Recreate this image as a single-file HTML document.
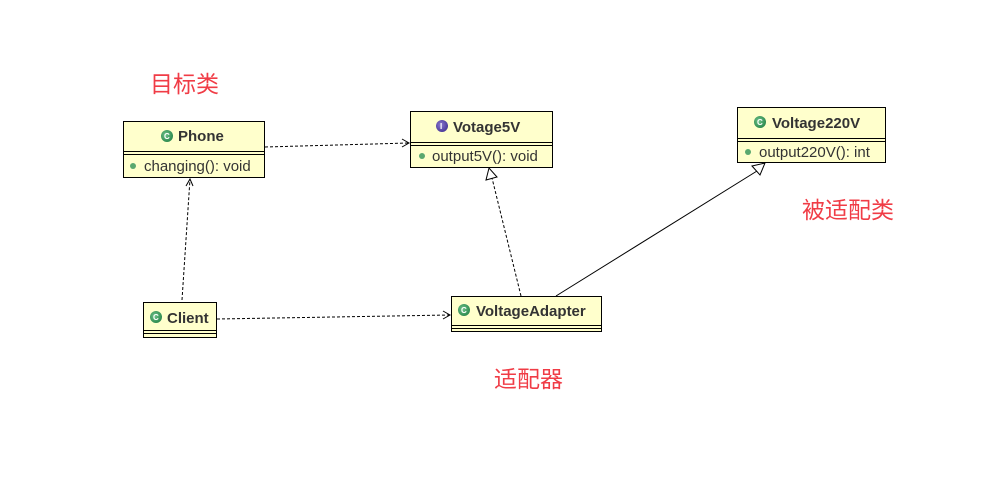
<!DOCTYPE html>
<html><head><meta charset="utf-8"><style>
html,body{margin:0;padding:0;background:#fff;width:984px;height:485px;overflow:hidden}
svg{display:block}
.t{font-family:"Liberation Sans","DejaVu Sans",sans-serif;font-size:15px;fill:#333;font-weight:bold}
.m{font-family:"Liberation Sans","DejaVu Sans",sans-serif;font-size:15px;fill:#333}
.cn{font-family:"Liberation Sans","Noto Sans CJK SC",sans-serif;font-size:23px;fill:#f03c46}
.ic{font-family:"Liberation Sans",sans-serif;font-size:8px;fill:#fff;font-weight:bold}
</style></head><body>
<svg width="984" height="485" viewBox="0 0 984 485">
<defs>
<radialGradient id="g" cx="0.4" cy="0.4" r="0.6"><stop offset="0" stop-color="#6fc28a"/><stop offset="1" stop-color="#2e8b50"/></radialGradient>
<radialGradient id="p" cx="0.4" cy="0.4" r="0.6"><stop offset="0" stop-color="#8a78d0"/><stop offset="1" stop-color="#4b3a9a"/></radialGradient>
</defs>
<text class="cn" x="150" y="92">目标类</text>
<text class="cn" x="802" y="218">被适配类</text>
<text class="cn" x="494" y="387">适配器</text>

<g stroke="#000" stroke-width="1" fill="none">
<path d="M265 147 L409 143" stroke-dasharray="3,2"/>
<path d="M402 139 L409 143 L402 147"/>
<path d="M182 300 L190 179" stroke-dasharray="3,2"/>
<path d="M186 186 L190 179 L193 186"/>
<path d="M217 319 L450 315" stroke-dasharray="3,2"/>
<path d="M443 311 L450 315 L443 319"/>
<path d="M521 296 L492 178" stroke-dasharray="3,2"/>
<path d="M486 180 L489 168 L497 177 Z" fill="#fff"/>
<path d="M556 296 L757 171"/>
<path d="M752 166 L765 163 L760 175 Z" fill="#fff"/>
</g>

<g>
<rect x="123.5" y="121.5" width="141" height="56" fill="#ffffcc" stroke="#000"/>
<line x1="123" y1="151.5" x2="265" y2="151.5" stroke="#000"/>
<line x1="123" y1="154.5" x2="265" y2="154.5" stroke="#000"/>
<circle cx="167" cy="136" r="6" fill="url(#g)"/><text class="ic" x="164" y="139">C</text>
<text class="t" x="178" y="141">Phone</text>
<circle cx="133" cy="166" r="3" fill="#5aa86e"/>
<text class="m" x="144" y="171">changing(): void</text>
</g>
<g>
<rect x="410.5" y="111.5" width="142" height="56" fill="#ffffcc" stroke="#000"/>
<line x1="410" y1="142.5" x2="553" y2="142.5" stroke="#000"/>
<line x1="410" y1="145.5" x2="553" y2="145.5" stroke="#000"/>
<circle cx="442" cy="126" r="6" fill="url(#p)"/><text class="ic" x="440" y="129">I</text>
<text class="t" x="453" y="132">Votage5V</text>
<circle cx="422" cy="156" r="3" fill="#5aa86e"/>
<text class="m" x="432" y="161">output5V(): void</text>
</g>
<g>
<rect x="737.5" y="107.5" width="148" height="55" fill="#ffffcc" stroke="#000"/>
<line x1="737" y1="138.5" x2="886" y2="138.5" stroke="#000"/>
<line x1="737" y1="141.5" x2="886" y2="141.5" stroke="#000"/>
<circle cx="760" cy="122" r="6" fill="url(#g)"/><text class="ic" x="757" y="125">C</text>
<text class="t" x="772" y="128">Voltage220V</text>
<circle cx="748" cy="152" r="3" fill="#5aa86e"/>
<text class="m" x="759" y="157">output220V(): int</text>
</g>
<g>
<rect x="143.5" y="302.5" width="73" height="35" fill="#ffffcc" stroke="#000"/>
<line x1="143" y1="330.5" x2="217" y2="330.5" stroke="#000"/>
<line x1="143" y1="333.5" x2="217" y2="333.5" stroke="#000"/>
<circle cx="156" cy="317" r="6" fill="url(#g)"/><text class="ic" x="153" y="320">C</text>
<text class="t" x="167" y="323">Client</text>
</g>
<g>
<rect x="451.5" y="296.5" width="150" height="35" fill="#ffffcc" stroke="#000"/>
<line x1="451" y1="325.5" x2="602" y2="325.5" stroke="#000"/>
<line x1="451" y1="328.5" x2="602" y2="328.5" stroke="#000"/>
<circle cx="464" cy="310" r="6" fill="url(#g)"/><text class="ic" x="461" y="313">C</text>
<text class="t" x="476" y="316">VoltageAdapter</text>
</g>
</svg>
</body></html>
